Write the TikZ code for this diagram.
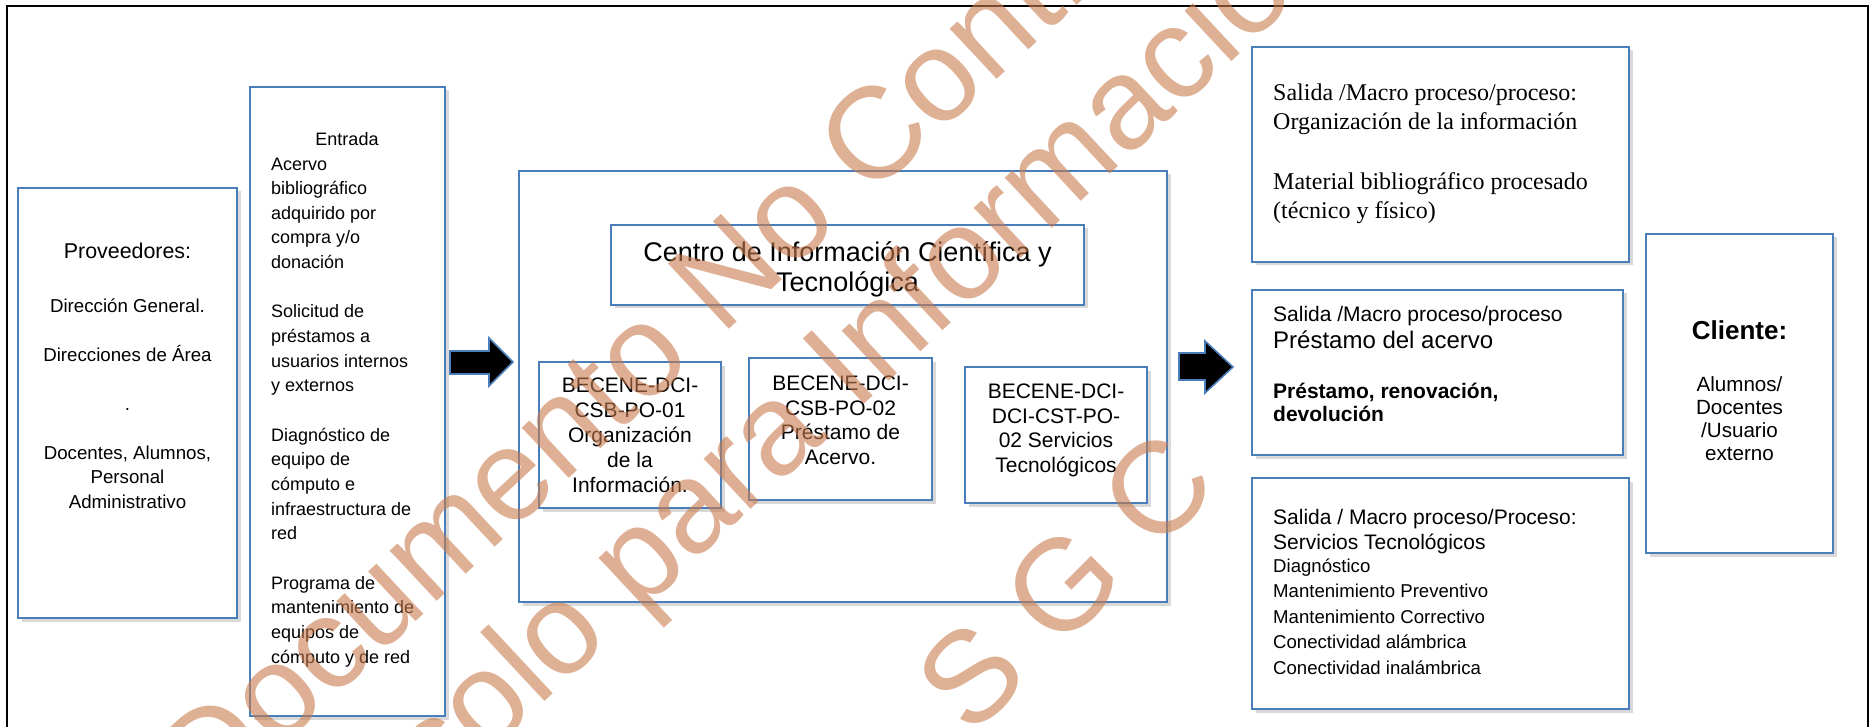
\documentclass[tikz,border=0pt]{standalone}
\usepackage{fontspec}
\setmainfont{Liberation Sans}
\newfontfamily\timesf{Liberation Serif}
\usetikzlibrary{shadows}
\definecolor{boxblue}{RGB}{74,126,187}
\definecolor{wmark}{RGB}{200,123,77}
\tikzset{
  bx/.style={draw=boxblue, line width=2.4pt, fill=white, rectangle, inner sep=0pt,
    drop shadow={shadow xshift=3.5pt, shadow yshift=-3.5pt, opacity=0.25, fill=black!60}},
  txt/.style={inner sep=0pt, text=black},
  barrow/.style={fill=black, draw=boxblue, line width=1.6pt, line join=miter},
  wm/.style={text=wmark, text opacity=0.6, font=\fontsize{130}{150}\selectfont, inner sep=0pt}
}
\newcommand{\fs}[2]{\fontsize{#1}{#2}\selectfont}
\begin{document}
\begin{tikzpicture}[x=1pt,y=-1pt]
\useasboundingbox (0,0) rectangle (1874,727);
% outer frame (bottom edge outside the picture)
\draw[line width=2.6pt, line join=miter] (7,740) -- (7,6) -- (1868,6) -- (1868,740);

% boxes
\node[bx, minimum width=219pt, minimum height=430pt] (prov) at (127.5,403) {};
\node[bx, minimum width=195pt, minimum height=629pt] (entr) at (347.5,401.5) {};
\node[bx, minimum width=648pt, minimum height=431pt] (ctr) at (843,386.5) {};
\node[bx, minimum width=473pt, minimum height=80pt] (ttl) at (847.5,265) {};
\node[bx, minimum width=182pt, minimum height=146pt] (b1) at (630,435) {};
\node[bx, minimum width=183pt, minimum height=142pt] (b2) at (840.5,429) {};
\node[bx, minimum width=182pt, minimum height=136pt] (b3) at (1056,435) {};
\node[bx, minimum width=377pt, minimum height=215pt] (s1) at (1440.5,154.5) {};
\node[bx, minimum width=371pt, minimum height=165pt] (s2) at (1437.5,372.5) {};
\node[bx, minimum width=377pt, minimum height=231pt] (s3) at (1440.5,593.5) {};
\node[bx, minimum width=187pt, minimum height=319pt] (cli) at (1739.5,393.5) {};

% block arrows
\draw[barrow] (450,351) -- (489,351) -- (489,338) -- (513,362) -- (489,386) -- (489,374) -- (450,374) -- cycle;
\draw[barrow] (1179,353) -- (1205,353) -- (1205,341) -- (1233,367) -- (1205,393) -- (1205,380) -- (1179,380) -- cycle;

% Proveedores (multi-line nodes: base anchor = baseline of last line)
\node[txt, font=\fs{21.4}{25}, anchor=base] (provt) at (127.5,259) {Proveedores:};
\node[txt, font=\fs{18.7}{24.5}, align=center, anchor=base] (provl) at (127.5,508)
  {Dirección General.\\[24.5pt] Direcciones de Área\\[24.5pt] .\\[24.5pt] Docentes, Alumnos,\\ Personal\\ Administrativo};

% Entrada
\node[txt, font=\fs{18}{24.65}, anchor=base] (entt) at (347,146) {Entrada};
\node[txt, font=\fs{18}{24.65}, align=left, anchor=base west] (entl) at (271,663)
  {Acervo\\ bibliográfico\\ adquirido por\\ compra y/o\\ donación\\[24.65pt]
   Solicitud de\\ préstamos a\\ usuarios internos\\ y externos\\[24.65pt]
   Diagnóstico de\\ equipo de\\ cómputo e\\ infraestructura de\\ red\\[24.65pt]
   Programa de\\ mantenimiento de\\ equipos de\\ cómputo y de red};

% centre
\node[txt, font=\fs{27}{30}, align=center, anchor=base] (ttlt) at (847.5,292)
  {Centro de Información Científica y\\ Tecnológica};
\node[txt, font=\fs{21}{24.9}, align=center, anchor=base] (b1t) at (630,492.5)
  {BECENE-DCI-\\ CSB-PO-01\\ Organización\\ de la\\ Información.};
\node[txt, font=\fs{21}{24.6}, align=center, anchor=base] (b2t) at (840.5,464.5)
  {BECENE-DCI-\\ CSB-PO-02\\ Préstamo de\\ Acervo.};
\node[txt, font=\fs{21}{24.7}, align=center, anchor=base] (b3t) at (1056,472.5)
  {BECENE-DCI-\\ DCI-CST-PO-\\ 02 Servicios\\ Tecnológicos};

% Salidas
\node[txt, font=\timesf\fs{24}{29}, align=left, anchor=base west] (s1t) at (1273,219)
  {Salida /Macro proceso/proceso:\\ Organización de la información\\[31pt]
   Material bibliográfico procesado\\ (técnico y físico)};
\node[txt, font=\fs{21}{24}, anchor=base west] (s2a) at (1273,321.5) {Salida /Macro proceso/proceso};
\node[txt, font=\fs{24}{27}, anchor=base west] (s2b) at (1273,348.5) {Préstamo del acervo};
\node[txt, font=\bfseries\fs{21}{23.5}, align=left, anchor=base west] (s2c) at (1273,421.5)
  {Préstamo, renovación,\\ devolución};
\node[txt, font=\fs{21}{24.5}, align=left, anchor=base west] (s3a) at (1273,549)
  {Salida / Macro proceso/Proceso:\\ Servicios Tecnológicos};
\node[txt, font=\fs{18.6}{25.4}, align=left, anchor=base west] (s3b) at (1273,674.1)
  {Diagnóstico\\ Mantenimiento Preventivo\\ Mantenimiento Correctivo\\ Conectividad alámbrica\\ Conectividad inalámbrica};

% Cliente
\node[txt, font=\bfseries\fs{26}{30}, anchor=base] (clit) at (1739.5,339) {Cliente:};
\node[txt, font=\fs{20.6}{22.8}, align=center, anchor=base] (clil) at (1739.5,460)
  {Alumnos/\\ Docentes\\ /Usuario\\ externo};

% watermark
\node[wm, rotate=43] (wm1) at (740,256) {Documento No Controlado};
\node[wm, rotate=43] (wm2) at (872,350) {solo para Información};
\node[wm, rotate=45] (wm3) at (1065,582) {S G C};
\end{tikzpicture}
\end{document}
